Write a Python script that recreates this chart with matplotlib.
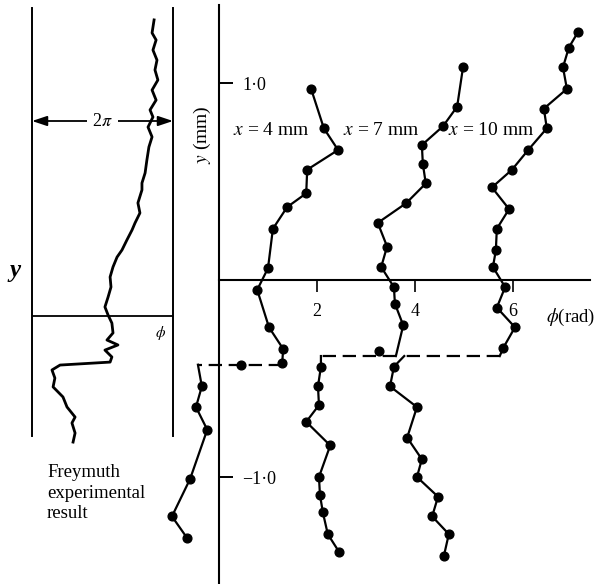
import numpy as np
import matplotlib
matplotlib.use("Agg")
import matplotlib.pyplot as plt

plt.rcParams['font.family'] = ['Liberation Serif', 'DejaVu Serif']
plt.rcParams['mathtext.fontset'] = 'stix'

# ---------------- data ----------------
# x = 4 mm
x4_up_phi = [1.88, 2.14, 2.43, 1.80, 1.78, 1.39, 1.10, 1.00, 0.78, 1.02, 1.31, 1.29]
x4_up_y = [0.97, 0.77, 0.66, 0.56, 0.44, 0.37, 0.26, 0.06, -0.05, -0.24, -0.35, -0.42]
x4_jump = (-0.43, 1.29, -0.43)          # (y, phi start, phi end)
x4_jump_dot = (0.45, -0.43)
x4_lo_phi = [-0.35, -0.47, -0.24, -0.59, -0.96, -0.65]
x4_lo_y = [-0.54, -0.645, -0.76, -1.01, -1.20, -1.31]

# x = 7 mm
x7_up_phi = [4.98, 4.86, 4.57, 4.14, 4.16, 4.22, 3.82, 3.24, 3.43, 3.31, 3.57, 3.59, 3.76]
x7_up_y = [1.08, 0.88, 0.78, 0.685, 0.59, 0.49, 0.39, 0.29, 0.17, 0.066, -0.036, -0.12, -0.23]
x7_jump = (-0.386, 3.61, 2.08)
x7_jump_dot = (3.27, -0.36)
x7_lo_phi = [2.08, 2.02, 2.04, 1.78, 2.27, 2.04, 2.06, 2.12, 2.22, 2.45]
x7_lo_y = [-0.44, -0.54, -0.635, -0.72, -0.84, -1.00, -1.09, -1.18, -1.29, -1.38]

# x = 10 mm
x10_up_phi = [7.33, 7.14, 7.02, 7.10, 6.63, 6.69, 6.31, 5.98, 5.57, 5.92, 5.67, 5.65, 5.59, 5.84, 5.67, 6.04, 5.80]
x10_up_y = [1.26, 1.18, 1.08, 0.97, 0.87, 0.77, 0.66, 0.56, 0.47, 0.36, 0.26, 0.15, 0.066, -0.036, -0.14, -0.24, -0.345]
x10_jump = (-0.386, 5.73, 3.78)
x10_lo_phi = [3.57, 3.49, 4.04, 3.84, 4.14, 4.04, 4.47, 4.35, 4.69, 4.59]
x10_lo_y = [-0.44, -0.54, -0.645, -0.80, -0.91, -1.00, -1.10, -1.20, -1.29, -1.40]

labels = ["$x$ = 4 mm", "$x$ = 7 mm", "$x$ = 10 mm"]
label_phi = [0.29, 2.53, 4.67]
label_y = [0.76, 0.76, 0.76]

x_ticks = [2, 4, 6]
y_ticks = [1.0, -1.0]
y_ticklabels = ["1·0", "\u22121·0"]

# Freymuth experimental trace (phase in rad across the 2*pi band, y)
frey_phase = [5.44, 5.35, 5.53, 5.39, 5.57, 5.48, 5.61, 5.35, 5.53, 5.26, 5.39, 5.17,
              5.35, 5.21, 5.12, 5.04, 4.90, 4.90, 4.72, 4.81, 4.59, 4.46, 4.23, 4.01,
              3.79, 3.61, 3.48, 3.52, 3.39, 3.25, 3.39, 3.56, 3.61, 3.34, 3.83, 3.25,
              3.56, 3.48, 1.25, 0.89, 1.02, 0.94, 1.38, 1.56, 1.92, 1.78, 1.92, 1.83]
frey_y = [1.503, 1.437, 1.401, 1.350, 1.299, 1.249, 1.198, 1.147, 1.096, 1.046, 1.010, 0.959,
          0.909, 0.858, 0.792, 0.726, 0.675, 0.640, 0.574, 0.523, 0.472, 0.437, 0.386, 0.335,
          0.299, 0.249, 0.198, 0.147, 0.096, 0.046, 0.005, -0.036, -0.086, -0.122, -0.147, -0.173,
          -0.208, -0.234, -0.249, -0.274, -0.315, -0.360, -0.411, -0.462, -0.513, -0.543, -0.594, -0.640]

# ---------------- figure ----------------
W, H = 597, 584
fig = plt.figure(figsize=(W / 100, H / 100), dpi=100)

# main axes: pixel mapping phi=(px-219)/49, y=(280-py)/197
ax = fig.add_axes([0, 0, 1, 1])
ax.set_xlim((0 - 219) / 49, (W - 219) / 49)
ax.set_ylim((280 - H) / 197, 280 / 197)
ax.patch.set_alpha(0)

for s in ['top', 'left']:
    ax.spines[s].set_visible(False)
ax.spines['right'].set_position(('data', 0))
ax.spines['bottom'].set_position(('data', 0))
ax.spines['right'].set_bounds((280 - H) / 197, (280 - 5) / 197)
ax.spines['bottom'].set_bounds(0, (590 - 219) / 49)
ax.spines['right'].set_linewidth(1.5)
ax.spines['bottom'].set_linewidth(1.5)

ax.yaxis.set_ticks_position('right')
ax.set_yticks(y_ticks)
ax.set_yticklabels(y_ticklabels)
ax.tick_params(axis='y', direction='out', length=10, width=1.4, pad=7, labelsize=13)
ax.xaxis.set_ticks_position('bottom')
ax.set_xticks(x_ticks)
ax.set_xticklabels([str(t) for t in x_ticks])
ax.tick_params(axis='x', direction='out', length=8.5, width=1.2, pad=8, labelsize=13)

lw = 1.6
ms = 6.3
def draw_series(up_phi, up_y, jump, lo_phi, lo_y, dot=None):
    jy, j0, j1 = jump
    ax.plot(list(up_phi) + [j0], list(up_y) + [jy], color='black', lw=lw, zorder=3)
    ax.plot(up_phi, up_y, 'o', color='black', ms=ms, zorder=4)
    ax.plot([j0, j1], [jy, jy], color='black', lw=lw, dashes=(6, 3), zorder=3)
    ax.plot([j1] + list(lo_phi), [jy] + list(lo_y), color='black', lw=lw, zorder=3)
    ax.plot(lo_phi, lo_y, 'o', color='black', ms=ms, zorder=4)
    if dot is not None:
        ax.plot([dot[0]], [dot[1]], 'o', color='black', ms=ms, zorder=4)

draw_series(x4_up_phi, x4_up_y, x4_jump, x4_lo_phi, x4_lo_y, x4_jump_dot)
draw_series(x7_up_phi, x7_up_y, x7_jump, x7_lo_phi, x7_lo_y, x7_jump_dot)
draw_series(x10_up_phi, x10_up_y, x10_jump, x10_lo_phi, x10_lo_y)

for t, px_, py_ in zip(labels, label_phi, label_y):
    ax.text(px_, py_, t, fontsize=14, ha='left', va='center', zorder=5)

ax.text((546 - 219) / 49, (280 - 317) / 197, r"$\phi$(rad)", fontsize=13.5,
        ha='left', va='center')
ax.text((202 - 219) / 49, (280 - 135) / 197, r"$y$ (mm)", fontsize=14,
        rotation=90, ha='center', va='center')

# left panel: Freymuth
axl = fig.add_axes([32 / W, (H - 436) / H, 141 / W, 428 / H])
axl.set_xlim(0, 2 * np.pi)
axl.set_ylim((316 - 436) / 197, (316 - 8) / 197)
axl.patch.set_alpha(0)
axl.spines['top'].set_visible(False)
axl.spines['bottom'].set_visible(False)
axl.spines['left'].set_linewidth(1.4)
axl.spines['right'].set_linewidth(1.4)
axl.set_xticks([])
axl.set_yticks([])
axl.axhline(0, color='black', lw=1.3)
axl.plot(frey_phase, frey_y, color='black', lw=2.0, clip_on=False)
ay = (316 - 121) / 197
axl.annotate('', xy=(0, ay), xytext=(2 * np.pi, ay),
             arrowprops=dict(arrowstyle='<|-|>,head_length=0.9,head_width=0.3',
                             color='black', lw=1.3, shrinkA=0, shrinkB=0))
axl.text(np.pi, ay, r"2$\pi$", fontsize=13, ha='center', va='center',
         bbox=dict(facecolor='white', edgecolor='none', pad=4))
axl.text(2 * np.pi * (161 - 32) / 141, (316 - 333) / 197, r"$\phi$", fontsize=11,
         ha='center', va='center')

fig.text(15 / W, 1 - 270 / H, "y", fontsize=18, fontstyle='italic', fontweight='bold',
         ha='center', va='center')
fig.text(47 / W, 1 - 493 / H, "Freymuth\nexperimental\nresult", fontsize=13.5,
         ha='left', va='center', linespacing=1.28)

fig.savefig("out.png", dpi=100)
